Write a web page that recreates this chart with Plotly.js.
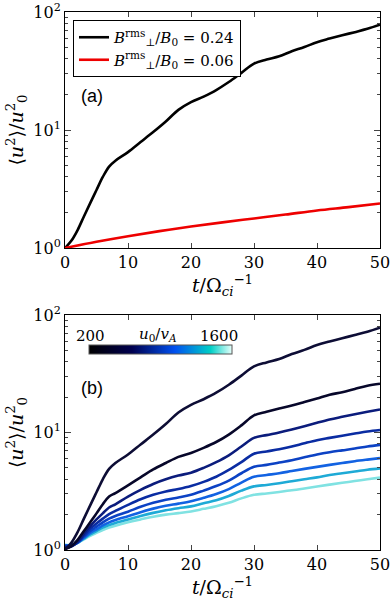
<!DOCTYPE html>
<html>
<head>
<meta charset="utf-8">
<script src="https://cdn.plot.ly/plotly-3.0.1.min.js"></script>
<style>
  html, body { margin: 0; padding: 0; background: #fff; }
  #plotArea { width: 391px; height: 607px; }
</style>
</head>
<body>
<div id="plotArea"></div>
<script>
// time axis (in units of 1/Omega_ci)
var t = [0, 1, 2, 3, 4, 5, 6, 7, 8, 10, 12, 14, 16, 18, 20, 22, 24, 26, 28, 30, 32, 34, 36, 38, 40, 42, 44, 46, 48, 50];
var tRed = [0, 5, 10, 15, 20, 25, 30, 35, 40, 45, 50];

// panel (a)
var strong = [1.0, 1.15, 1.42, 1.85, 2.4, 3.1, 4.0, 4.9, 5.5, 6.5, 7.9, 9.6, 11.8, 14.8, 17.2, 19.2, 21.8, 25.5, 30.5, 36.5, 39.5, 42.2, 46.5, 50.5, 55.5, 59.5, 63.5, 67.5, 72, 78];
var weak = [1.0, 1.13, 1.26, 1.39, 1.52, 1.65, 1.78, 1.92, 2.08, 2.22, 2.38];

// panel (b): u0/vA = 200 ... 1600
var u0 = [200, 400, 600, 800, 1000, 1200, 1400, 1600];
var c2 = [1.02, 1.08, 1.22, 1.45, 1.72, 2.05, 2.45, 2.85, 3.05, 3.55, 4.15, 4.85, 5.5, 6.2, 6.7, 7.4, 8.3, 9.6, 11.5, 14.0, 15.0, 16.0, 17.0, 18.2, 19.5, 21, 22, 23.5, 25, 26];
var c3 = [1.05, 1.07, 1.18, 1.38, 1.6, 1.82, 2.05, 2.3, 2.45, 2.85, 3.25, 3.65, 4.0, 4.3, 4.55, 5.0, 5.6, 6.4, 7.6, 9.0, 9.5, 10.0, 10.6, 11.3, 12.1, 12.9, 13.6, 14.3, 15.0, 15.7];
var c4 = [1.07, 1.08, 1.17, 1.33, 1.52, 1.68, 1.85, 2.02, 2.15, 2.42, 2.7, 2.95, 3.15, 3.3, 3.5, 3.8, 4.2, 4.8, 5.6, 6.6, 6.9, 7.2, 7.6, 8.1, 8.6, 9.0, 9.4, 9.8, 10.2, 10.5];
var c5 = [1.08, 1.09, 1.16, 1.3, 1.45, 1.58, 1.72, 1.85, 1.95, 2.12, 2.33, 2.52, 2.68, 2.8, 2.95, 3.2, 3.5, 3.9, 4.5, 5.1, 5.3, 5.55, 5.8, 6.15, 6.5, 6.8, 7.05, 7.3, 7.6, 7.85];
var c6 = [1.09, 1.1, 1.15, 1.27, 1.4, 1.5, 1.62, 1.72, 1.8, 1.94, 2.1, 2.25, 2.38, 2.48, 2.6, 2.78, 3.0, 3.3, 3.75, 4.2, 4.35, 4.5, 4.7, 4.9, 5.1, 5.3, 5.5, 5.7, 5.88, 6.05];
var c7 = [1.1, 1.1, 1.15, 1.25, 1.36, 1.45, 1.55, 1.63, 1.7, 1.82, 1.95, 2.07, 2.18, 2.27, 2.35, 2.5, 2.65, 2.88, 3.2, 3.48, 3.58, 3.7, 3.85, 4.0, 4.15, 4.35, 4.5, 4.65, 4.82, 4.95];
var c8 = [1.1, 1.11, 1.15, 1.23, 1.32, 1.4, 1.48, 1.55, 1.61, 1.72, 1.82, 1.92, 2.0, 2.06, 2.13, 2.24, 2.36, 2.52, 2.75, 2.95, 3.03, 3.12, 3.22, 3.34, 3.47, 3.6, 3.73, 3.86, 4.0, 4.13];
var curvesB = [strong, c2, c3, c4, c5, c6, c7, c8];
var curveColors = ["#0d0d35", "#07072a", "#0b1c7c", "#0a2ca2", "#0c42c4", "#1262e2", "#1eaad6", "#80e2e2"];

// tick labels
var yTickVals = [1, 10, 100];
var yTickText = ["10<sup>0</sup>", "10<sup>1</sup>", "10<sup>2</sup>"];
var yMinorVals = [2, 3, 4, 5, 6, 7, 8, 9, 20, 30, 40, 50, 60, 70, 80, 90];

var cscale = [[0, "#000000"], [0.3, "#00004f"], [0.6, "#0050f0"], [0.85, "#00cfc6"], [1, "#e6fffa"]];

var serif = "'DejaVu Serif', serif";
var sans = "'Liberation Sans', sans-serif";

var data = [
    {x: t, y: strong, type: "scatter", mode: "lines", line: {color: "black", width: 2.6, shape: "spline"},
     name: "<i>B</i><sup>rms</sup><sub>⊥</sub>/<i>B</i><sub>0</sub> = 0.24", xaxis: "x", yaxis: "y"},
    {x: tRed, y: weak, type: "scatter", mode: "lines", line: {color: "#ee0000", width: 2.6, shape: "spline"},
     name: "<i>B</i><sup>rms</sup><sub>⊥</sub>/<i>B</i><sub>0</sub> = 0.06", xaxis: "x", yaxis: "y"}
];

// draw lightest first so the darker curves sit on top
for (var i = curvesB.length - 1; i >= 0; i--) {
    data.push({x: t, y: curvesB[i], type: "scatter", mode: "lines", showlegend: false,
        line: {color: curveColors[i], width: 2.6, shape: "spline"}, xaxis: "x2", yaxis: "y2"});
}

// dummy trace only to carry the colour bar
data.push({x: [null, null], y: [null, null], type: "scatter", mode: "markers", showlegend: false,
    xaxis: "x2", yaxis: "y2",
    marker: {color: [u0[0], u0[u0.length - 1]], cmin: 200, cmax: 1600, colorscale: cscale, showscale: true,
        colorbar: {orientation: "h", x: 89 / 391, xanchor: "left", y: 1 - 345 / 607, yanchor: "top",
            len: 143 / 391, lenmode: "fraction", thickness: 9, xpad: 0, ypad: 0,
            outlinewidth: 1, outlinecolor: "#555", showticklabels: false, ticks: ""}}});

var xax = {range: [0, 50], dtick: 10, ticks: "inside", ticklen: 5, mirror: "ticks", showline: true,
    linecolor: "black", linewidth: 1, showgrid: false, zeroline: false, ticklabeloverflow: "allow",
    tickfont: {family: serif, size: 16, color: "black"},
    title: {text: "<i>t</i>/Ω<sub><i>ci</i></sub><sup>−1</sup>", font: {family: serif, size: 19, color: "black"}, standoff: 2}};
var yax = {type: "log", range: [0, 2], tickmode: "array", tickvals: yTickVals, ticktext: yTickText,
    ticks: "inside", ticklen: 6, mirror: "ticks", showline: true, linecolor: "black", linewidth: 1, showgrid: false,
    ticklabeloverflow: "allow",
    minor: {tickmode: "array", tickvals: yMinorVals, ticks: "inside", ticklen: 3, showgrid: false},
    tickfont: {family: serif, size: 16, color: "black"},
    title: {text: "⟨<i>u</i><sup>2</sup>⟩/<i>u</i><sup>2</sup><sub>0</sub>", font: {family: serif, size: 19, color: "black"}, standoff: 4}};

var layout = {
    width: 391, height: 607,
    margin: {l: 0, r: 0, t: 0, b: 0},
    paper_bgcolor: "white", plot_bgcolor: "white",
    font: {family: serif, color: "black"},
    showlegend: true,
    legend: {x: 73 / 391, y: 1 - 20 / 607, xanchor: "left", yanchor: "top", bgcolor: "white",
        bordercolor: "black", borderwidth: 1, font: {family: serif, size: 15, color: "black"},
        itemwidth: 30, tracegroupgap: 0},
    xaxis: Object.assign({}, xax, {domain: [65 / 391, 380 / 391], anchor: "y"}),
    yaxis: Object.assign({}, yax, {domain: [1 - 248 / 607, 1 - 12 / 607], anchor: "x"}),
    xaxis2: Object.assign({}, xax, {domain: [65 / 391, 380 / 391], anchor: "y2"}),
    yaxis2: Object.assign({}, yax, {domain: [1 - 550 / 607, 1 - 315 / 607], anchor: "x2"}),
    annotations: [
        {text: "(a)", xref: "paper", yref: "paper", x: 79 / 391, y: 1 - 96 / 607, xanchor: "left", yanchor: "middle",
         showarrow: false, font: {family: sans, size: 18, color: "black"}},
        {text: "(b)", xref: "paper", yref: "paper", x: 79 / 391, y: 1 - 388 / 607, xanchor: "left", yanchor: "middle",
         showarrow: false, font: {family: sans, size: 18, color: "black"}},
        {text: "200", xref: "paper", yref: "paper", x: 90 / 391, y: 1 - 336 / 607, xanchor: "center", yanchor: "middle",
         showarrow: false, font: {family: serif, size: 15, color: "black"}},
        {text: "<i>u</i><sub>0</sub>/<i>v</i><sub><i>A</i></sub>", xref: "paper", yref: "paper", x: 158 / 391, y: 1 - 334 / 607,
         xanchor: "center", yanchor: "middle", showarrow: false, font: {family: serif, size: 15, color: "black"}},
        {text: "1600", xref: "paper", yref: "paper", x: 219 / 391, y: 1 - 336 / 607, xanchor: "center", yanchor: "middle",
         showarrow: false, font: {family: serif, size: 15, color: "black"}}
    ]
};

Plotly.newPlot("plotArea", data, layout, {displayModeBar: false, staticPlot: true});
</script>
</body>
</html>
